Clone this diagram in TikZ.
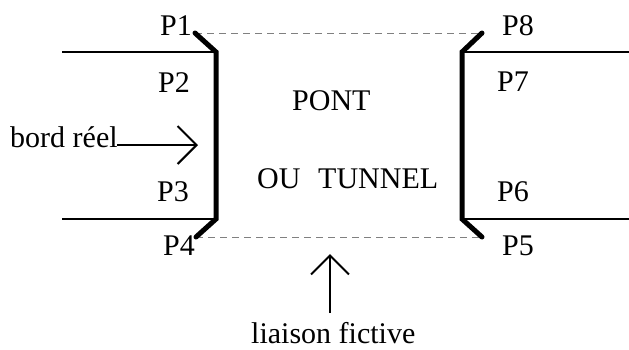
\documentclass[tikz,border=0pt]{standalone}
\usepackage{fontspec}
\setmainfont{Liberation Serif}
\usetikzlibrary{arrows.meta}
\begin{document}
\begin{tikzpicture}[x=1pt,y=-1pt,
  lbl/.style={inner sep=0pt,anchor=base west,font=\fontsize{30}{36}\selectfont},
  edge/.style={line width=2.6pt},
  bar/.style={line width=5pt,line cap=round,line join=miter},
  fict/.style={line width=1pt,gray,dash pattern=on 7pt off 5pt},
  pointer/.style={line width=2pt,-{Straight Barb[length=19pt,width=38pt]}}]
\useasboundingbox (0,0) rectangle (629,349);
% corner points
\coordinate (p1) at (195,33);
\coordinate (p2) at (216,52);
\coordinate (p3) at (216,219);
\coordinate (p4) at (196,237);
\coordinate (p8) at (482,33);
\coordinate (p7) at (462,52);
\coordinate (p6) at (462,219);
\coordinate (p5) at (482,237);
\coordinate (la) at (62,52);
\coordinate (lb) at (62,219);
\coordinate (ra) at (629,52);
\coordinate (rb) at (629,219);
% real edges
\draw[edge] (la) -- (p2);
\draw[edge] (lb) -- (p3);
\draw[edge] (p7) -- (ra);
\draw[edge] (p6) -- (rb);
% fictive links
\draw[fict] (p1) -- (p8);
\draw[fict] (p4) -- (p5);
% thick bars
\draw[bar] (p1) -- (p2) -- (p3) -- (p4);
\draw[bar] (p8) -- (p7) -- (p6) -- (p5);
% labels
\node[lbl] (t1) at (160,35) {P1};
\node[lbl] (t2) at (158,92) {P2};
\node[lbl] (t3) at (157,201) {P3};
\node[lbl] (t4) at (163,255) {P4};
\node[lbl] (t8) at (502,35) {P8};
\node[lbl] (t7) at (497,91) {P7};
\node[lbl] (t6) at (497,201) {P6};
\node[lbl] (t5) at (502,255) {P5};
\node[lbl] (pont) at (292,110) {PONT};
\node[lbl] (ou) at (257,188) {OU};
\node[lbl] (tunnel) at (318,188) {TUNNEL};
\node[lbl] (bord) at (10,147) {bord réel};
\node[lbl] (liaison) at (251,343) {liaison fictive};
% pointers
\coordinate (bs) at (117,145);
\coordinate (bt) at (198,145);
\draw[pointer] (bs) -- (bt);
\coordinate (ls) at (330,313);
\coordinate (lt) at (330,254);
\draw[pointer] (ls) -- (lt);
\end{tikzpicture}
\end{document}
